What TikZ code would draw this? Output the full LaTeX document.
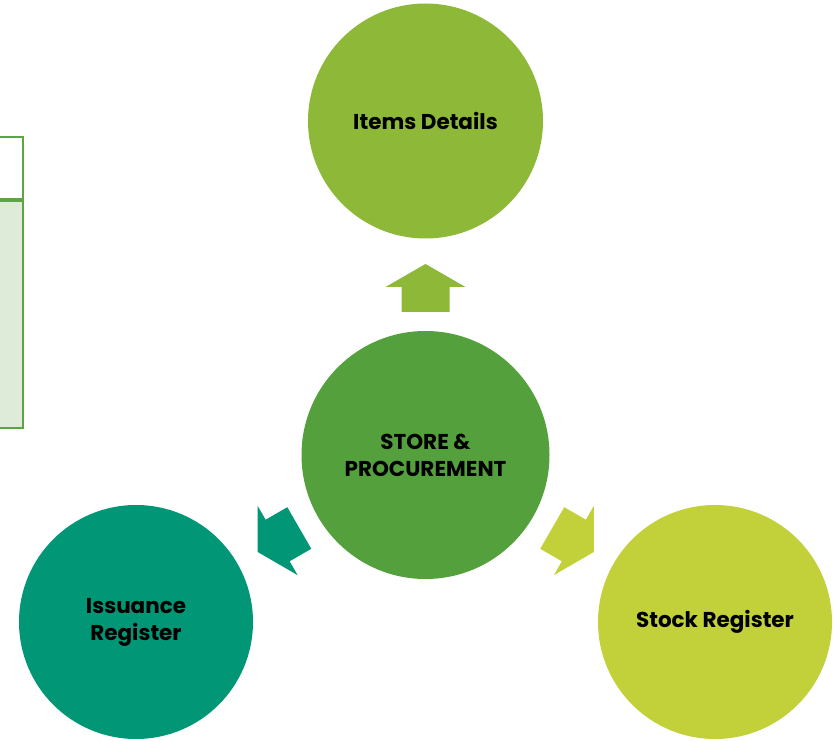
\documentclass[tikz,border=0pt]{standalone}
\usepackage{fontspec}
\setmainfont{Poppins}
\usepackage{xcolor}
\usetikzlibrary{positioning}
\definecolor{itemgreen}{HTML}{8DB838}
\definecolor{storegreen}{HTML}{54A03C}
\definecolor{issueteal}{HTML}{009676}
\definecolor{stocklime}{HTML}{C2D03A}
\definecolor{tableline}{HTML}{5DA543}
\definecolor{tablefill}{HTML}{DEEBD8}
\tikzstyle{bubble}=[circle,draw=none,inner sep=0pt,align=center,text=black,font=\bfseries\fontsize{21.5}{27}\selectfont]

\begin{document}
\begin{tikzpicture}[x=1pt,y=1pt]
    \useasboundingbox (0,0) rectangle (833,740);

    % cut-off table on the left
    \fill[tablefill] (0,540) rectangle (23,312);
    \draw[tableline, line width=2pt] (0,603) -- (23,603) -- (23,312) -- (0,312);
    \draw[tableline, line width=4pt] (0,540) -- (24,540);

    % circles
    \node[bubble, fill=itemgreen, minimum size=235] (items) at (425.5,619) {Items Details};
    \node[bubble, fill=storegreen, minimum size=248] (store) at (425.5,285) {STORE \&\\PROCUREMENT};
    \node[bubble, fill=issueteal, minimum size=234] (issue) at (136,118) {Issuance\\Register};
    \node[bubble, fill=stocklime, minimum size=234] (stock) at (715,118) {Stock Register};

    % block arrows
    \fill[itemgreen, shift={(425.5,452)}, rotate=90]
        (-24,-24) -- (1,-24) -- (1,-40) -- (24,0) -- (1,40) -- (1,24) -- (-24,24) -- cycle;
    \fill[issueteal, shift={(278.5,200)}, rotate=210]
        (-24,-24) -- (1,-24) -- (1,-40) -- (24,0) -- (1,40) -- (1,24) -- (-24,24) -- cycle;
    \fill[stocklime, shift={(573,200)}, rotate=330]
        (-24,-24) -- (1,-24) -- (1,-40) -- (24,0) -- (1,40) -- (1,24) -- (-24,24) -- cycle;
\end{tikzpicture}
\end{document}
